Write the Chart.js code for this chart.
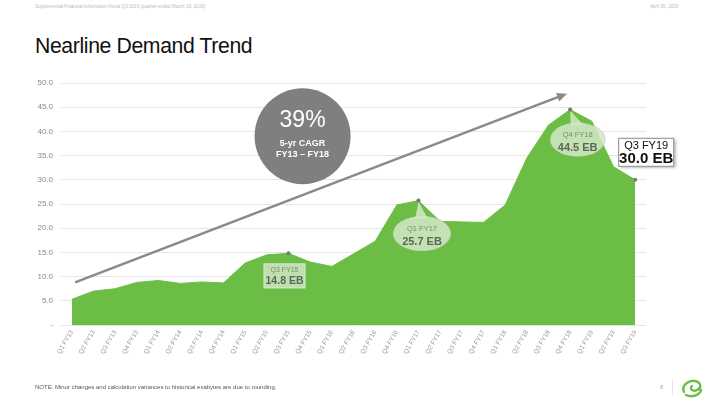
<!DOCTYPE html>
<html>
<head>
<meta charset="utf-8">
<script src="https://cdn.jsdelivr.net/npm/chart.js@4.4.1/dist/chart.umd.min.js"></script>
<style>
  html, body { margin:0; padding:0; background:#fff; }
  body { width:710px; height:400px; position:relative; overflow:hidden; font-family:"Liberation Sans", Arial, sans-serif; }
  #hdrL { position:absolute; left:35px; top:4px; font-size:4.6px; color:#bbb; white-space:nowrap; }
  #hdrR { position:absolute; left:650px; top:4px; font-size:4.6px; color:#bbb; white-space:nowrap; }
  #title { position:absolute; left:35px; top:33px; font-size:22px; color:#111; letter-spacing:-0.4px; white-space:nowrap; transform:scaleX(0.965); transform-origin:left top; }
  #note { position:absolute; left:35px; top:384px; font-size:6px; color:#555; white-space:nowrap; }
  #page { position:absolute; left:660px; top:384px; font-size:6px; color:#aaa; }
  #sep { position:absolute; left:672px; top:380px; width:1px; height:15px; background:#e4e4e4; }
  #logo { position:absolute; left:680px; top:377px; }
  #wrap { position:absolute; left:0; top:0; width:710px; height:400px; }
</style>
</head>
<body>
<div id="hdrL">Supplemental Financial Information Fiscal Q3 2019 (quarter ended March 29, 2019)</div>
<div id="hdrR">April 30, 2019</div>
<div id="title">Nearline Demand Trend</div>
<div id="wrap"><canvas id="c" width="710" height="400"></canvas></div>
<div id="note">NOTE: Minor changes and calculation variances to historical exabytes are due to rounding.</div>
<div id="page">8</div>
<div id="sep"></div>
<svg id="logo" width="24" height="22" viewBox="0 0 24 22">
  <path d="M4 15 C1 9 8 3 15 4 C21 5 22 11 17 13 C13 15 9 12 12 9" fill="none" stroke="#6cbd45" stroke-width="2.4" stroke-linecap="round"/>
  <path d="M6 18 C12 21 20 18 21 13" fill="none" stroke="#6cbd45" stroke-width="2.4" stroke-linecap="round"/>
</svg>
<script>
const categories = ['Q1 FY13','Q2 FY13','Q3 FY13','Q4 FY13','Q1 FY14','Q2 FY14','Q3 FY14','Q4 FY14',
  'Q1 FY15','Q2 FY15','Q3 FY15','Q4 FY15','Q1 FY16','Q2 FY16','Q3 FY16','Q4 FY16',
  'Q1 FY17','Q2 FY17','Q3 FY17','Q4 FY17','Q1 FY18','Q2 FY18','Q3 FY18','Q4 FY18',
  'Q1 FY19','Q2 FY19','Q3 FY19'];
const exabytes = [5.3, 7.0, 7.5, 8.8, 9.2, 8.6, 8.9, 8.7,
  12.8, 14.5, 14.8, 13.0, 12.1, 14.7, 17.3, 24.8,
  25.7, 21.4, 21.3, 21.2, 24.8, 34.5, 41.3, 44.5,
  42.1, 32.7, 30.0];
const yMin = 0, yMax = 50, yStep = 5;
const calloutBox = ['Q3 FY15'];
const calloutBubbles = ['Q1 FY17', 'Q4 FY18'];
const calloutLatest = ['Q3 FY19'];
const cagrText = ['39%', '5-yr CAGR', 'FY13 \u2013 FY18'];
// trend arrow in data space: [startIndex, startValue, endIndex, endValue]
const trendArrow = [0.15, 8.8, 22.85, 47.8];
// CAGR circle centre in data space: [index, value]
const cagrCentre = [10.65, 39.0];

const highlighted = [...calloutBox, ...calloutBubbles, ...calloutLatest].map(l => categories.indexOf(l));
const GREEN = '#6cbd45';

const overlay = {
  id: 'overlay',
  afterDatasetsDraw(chart) {
    const ctx = chart.ctx, xs = chart.scales.x, ys = chart.scales.y;
    const meta = chart.getDatasetMeta(0);
    const pt = (label) => meta.data[categories.indexOf(label)];
    const val = (label) => exabytes[categories.indexOf(label)].toFixed(1) + ' EB';
    ctx.save();

    // trend arrow
    const ax0 = xs.getPixelForValue(trendArrow[0]), ay0 = ys.getPixelForValue(trendArrow[1]);
    const ax1 = xs.getPixelForValue(trendArrow[2]), ay1 = ys.getPixelForValue(trendArrow[3]);
    const ang = Math.atan2(ay1 - ay0, ax1 - ax0);
    ctx.strokeStyle = '#8a8a8a'; ctx.fillStyle = '#8a8a8a'; ctx.lineWidth = 2.6;
    ctx.beginPath(); ctx.moveTo(ax0, ay0);
    ctx.lineTo(ax1 - 7 * Math.cos(ang), ay1 - 7 * Math.sin(ang)); ctx.stroke();
    ctx.beginPath();
    ctx.moveTo(ax1, ay1);
    ctx.lineTo(ax1 - 10 * Math.cos(ang) + 4.5 * Math.sin(ang), ay1 - 10 * Math.sin(ang) - 4.5 * Math.cos(ang));
    ctx.lineTo(ax1 - 10 * Math.cos(ang) - 4.5 * Math.sin(ang), ay1 - 10 * Math.sin(ang) + 4.5 * Math.cos(ang));
    ctx.closePath(); ctx.fill();

    // CAGR circle
    const cx = xs.getPixelForValue(cagrCentre[0]), cy = ys.getPixelForValue(cagrCentre[1]);
    ctx.fillStyle = '#7f7f7f';
    ctx.beginPath(); ctx.arc(cx, cy, 48, 0, Math.PI * 2); ctx.fill();
    ctx.fillStyle = '#fff'; ctx.textAlign = 'center'; ctx.textBaseline = 'middle';
    ctx.font = '23px "Liberation Sans", Arial, sans-serif';
    ctx.fillText(cagrText[0], cx, cy - 16);
    ctx.font = 'bold 9px "Liberation Sans", Arial, sans-serif';
    ctx.fillText(cagrText[1], cx, cy + 7);
    ctx.fillText(cagrText[2], cx, cy + 18);

    // Box callout
    calloutBox.forEach(l => {
      const p = pt(l);
      const x = p.x - 25, y = p.y + 10, w = 42, h = 25;
      ctx.fillStyle = 'rgba(210,232,198,0.82)';
      ctx.fillRect(x, y, w, h);
      ctx.strokeStyle = 'rgba(255,255,255,0.35)'; ctx.lineWidth = 1; ctx.strokeRect(x + 0.5, y + 0.5, w - 1, h - 1);
      ctx.fillStyle = '#7d8a78'; ctx.font = '7px "Liberation Sans", Arial, sans-serif';
      ctx.fillText(l, x + w / 2, y + 6.5);
      ctx.fillStyle = '#5b6757'; ctx.font = 'bold 10.5px "Liberation Sans", Arial, sans-serif';
      ctx.fillText(val(l), x + w / 2, y + 18);
    });

    // Ellipse bubbles
    const bubOff = [[3.5, 33, 29, 17.5], [7.5, 30, 27.5, 17]];
    calloutBubbles.forEach((l, k) => {
      const p = pt(l); const [dx, dy, rx, ry] = bubOff[k];
      const ex = p.x + dx, ey = p.y + dy;
      ctx.fillStyle = 'rgba(210,232,198,0.85)';
      ctx.beginPath();
      ctx.ellipse(ex, ey, rx, ry, 0, 0, Math.PI * 2);
      ctx.fill();
      ctx.beginPath();
      ctx.moveTo(p.x, p.y + 1);
      ctx.lineTo(ex - 7, ey - ry + 3);
      ctx.lineTo(ex + 6, ey - ry + 3);
      ctx.closePath(); ctx.fill();
      ctx.strokeStyle = 'rgba(170,170,170,0.55)'; ctx.lineWidth = 0.8;
      ctx.beginPath(); ctx.ellipse(ex, ey, rx, ry, 0, -1.3, 0.9); ctx.stroke();
      ctx.fillStyle = '#7d8a78'; ctx.font = '7.5px "Liberation Sans", Arial, sans-serif';
      ctx.fillText(l, ex, ey - 5);
      ctx.fillStyle = '#5b6757'; ctx.font = 'bold 11px "Liberation Sans", Arial, sans-serif';
      ctx.fillText(val(l), ex, ey + 8);
    });

    // Latest value callout
    calloutLatest.forEach(l => {
      const p = pt(l);
      const x = p.x - 17, y = p.y - 42, w = 56, h = 29;
      ctx.save();
      ctx.shadowColor = 'rgba(0,0,0,0.35)'; ctx.shadowBlur = 3; ctx.shadowOffsetX = 1.5; ctx.shadowOffsetY = 1.5;
      ctx.fillStyle = '#fff'; ctx.fillRect(x, y, w, h);
      ctx.restore();
      ctx.strokeStyle = '#8d8d8d'; ctx.lineWidth = 1; ctx.strokeRect(x + 0.5, y + 0.5, w - 1, h - 1);
      ctx.fillStyle = '#111'; ctx.font = '11px "Liberation Sans", Arial, sans-serif';
      ctx.fillText(l, x + w / 2, y + 8.5);
      ctx.font = 'bold 15px "Liberation Sans", Arial, sans-serif';
      ctx.fillText(val(l), x + w / 2, y + 21);
    });

    // point markers on top
    highlighted.forEach(i => {
      const p = meta.data[i];
      ctx.fillStyle = '#777';
      ctx.beginPath(); ctx.arc(p.x, p.y, 2, 0, Math.PI * 2); ctx.fill();
    });
    ctx.restore();
  }
};

new Chart(document.getElementById('c'), {
  type: 'line',
  data: {
    labels: categories,
    datasets: [{
      data: exabytes,
      fill: 'origin',
      backgroundColor: GREEN,
      borderColor: GREEN,
      borderWidth: 1,
      tension: 0,
      pointRadius: 0,
      pointHoverRadius: 0
    }]
  },
  options: {
    responsive: false,
    animation: false,
    events: [],
    layout: { padding: { left: 20, right: 64, top: 83, bottom: 35 } },
    plugins: { legend: { display: false }, tooltip: { enabled: false } },
    scales: {
      x: {
        offset: true,
        grid: { display: false, drawTicks: false },
        border: { display: false },
        afterFit: (s) => { s.height = 40; },
        ticks: {
          autoSkip: false, minRotation: 60, maxRotation: 60, padding: 4,
          color: '#999', font: { size: 6.5, family: '"Liberation Sans", Arial, sans-serif' }
        }
      },
      y: {
        min: yMin, max: yMax,
        afterFit: (s) => { s.width = 41; },
        grid: { color: '#e6e6e6', lineWidth: 1, drawTicks: false },
        border: { display: false },
        ticks: {
          stepSize: yStep, padding: 8,
          color: '#8a8a8a', font: { size: 8, family: '"Liberation Sans", Arial, sans-serif' },
          callback: (v) => v === 0 ? '-' : v.toFixed(1)
        }
      }
    }
  },
  plugins: [overlay]
});
</script>
</body>
</html>
